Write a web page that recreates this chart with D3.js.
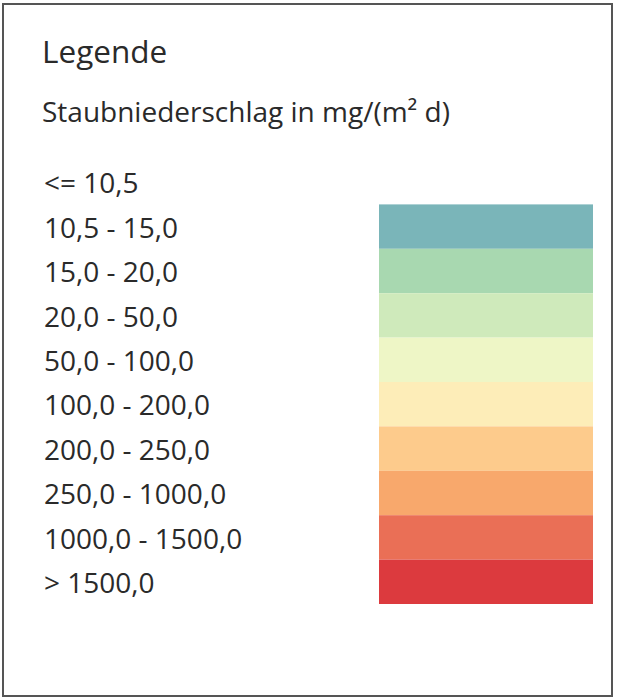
<!DOCTYPE html>
<html><head><meta charset="utf-8">
<script src="https://cdn.jsdelivr.net/npm/d3@7"></script>
<style>html,body{margin:0;padding:0;background:#fff;}</style>
</head><body>
<script>
const title = "Legende";
const subtitle = "Staubniederschlag in mg/(m² d)";
const categories = ["<= 10,5","10,5 - 15,0","15,0 - 20,0","20,0 - 50,0","50,0 - 100,0","100,0 - 200,0","200,0 - 250,0","250,0 - 1000,0","1000,0 - 1500,0","> 1500,0"];
const colors = [null,"#7ab5b9","#a8d8b0","#cfeabb","#eef6c6","#fdedb8","#fdcb8c","#f8a86c","#ea6f56","#dc3a3e"];

const W = 617, H = 699;
const svg = d3.select("body").append("svg").attr("width", W).attr("height", H);
svg.append("rect").attr("x",3).attr("y",4).attr("width",609).attr("height",692)
  .attr("fill","#fff").attr("stroke","#555").attr("stroke-width",2);

const font = "'Open Sans', sans-serif";
svg.append("text").attr("x",42).attr("y",63).text(title)
  .attr("font-family",font).attr("font-size",31.5).attr("fill","#2a2a2a");
svg.append("text").attr("x",42).attr("y",122).text(subtitle)
  .attr("font-family",font).attr("font-size",28).attr("fill","#2a2a2a");

const y = d3.scaleBand().domain(categories).range([160, 604]).padding(0);
const data = categories.map((c,i)=>({c, col: colors[i]}));

svg.selectAll("rect.sw").data(data.filter(d=>d.col)).join("rect").attr("class","sw")
  .attr("x",379).attr("width",214)
  .attr("y",d=>y(d.c)).attr("height",y.bandwidth())
  .attr("fill",d=>d.col);

svg.selectAll("text.lab").data(data).join("text").attr("class","lab")
  .attr("x",44).attr("y",d=>y(d.c)+y.bandwidth()/2)
  .attr("dy","0.4em")
  .attr("font-family",font).attr("font-size",28).attr("fill","#2a2a2a")
  .text(d=>d.c);
</script>
</body></html>
